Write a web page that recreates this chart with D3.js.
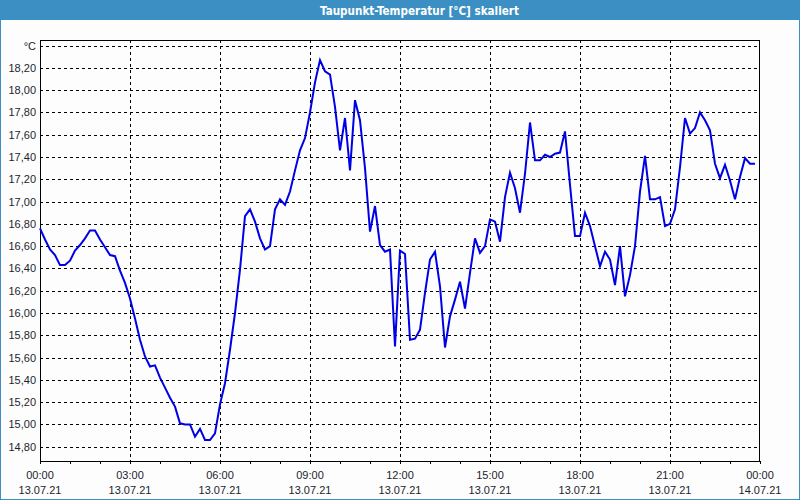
<!DOCTYPE html>
<html>
<head>
<meta charset="utf-8">
<script src="https://cdn.jsdelivr.net/npm/d3@7"></script>
<style>
  html, body { margin: 0; padding: 0; background: #fcfdfc; }
  svg { display: block; }
</style>
</head>
<body>
<svg id="chart" width="800" height="500"></svg>
<script>
// ---- Data (10-minute readings, 13.07.21 00:00 .. 23:50) ----
const title = "Taupunkt-Temperatur [°C] skaliert";
const unitLabel = "°C";
const startTime = "2021-07-13T00:00:00";
const endTime = "2021-07-14T00:00:00";
const stepMinutes = 10;
const dewPoint = [
  16.76, 16.66, 16.57, 16.52, 16.43, 16.43, 16.47, 16.56, 16.61, 16.67,
  16.74, 16.74, 16.66, 16.59, 16.52, 16.51, 16.38, 16.27, 16.13, 15.95,
  15.76, 15.61, 15.52, 15.53, 15.42, 15.33, 15.24, 15.16, 15.01, 15.00,
  15.00, 14.89, 14.96, 14.86, 14.86, 14.92, 15.18, 15.37, 15.67, 16.00,
  16.39, 16.87, 16.93, 16.82, 16.67, 16.57, 16.60, 16.93, 17.02, 16.97,
  17.09, 17.28, 17.46, 17.57, 17.80, 18.07, 18.27, 18.17, 18.14, 17.85,
  17.46, 17.75, 17.28, 17.91, 17.73, 17.30, 16.73, 16.96, 16.61, 16.55,
  16.57, 15.70, 16.56, 16.53, 15.76, 15.77, 15.85, 16.18, 16.48, 16.55,
  16.24, 15.69, 15.97, 16.12, 16.28, 16.04, 16.36, 16.67, 16.54, 16.60,
  16.84, 16.82, 16.64, 17.04, 17.26, 17.12, 16.90, 17.25, 17.71, 17.37,
  17.37, 17.42, 17.40, 17.43, 17.44, 17.63, 17.15, 16.69, 16.69, 16.90,
  16.78, 16.60, 16.42, 16.55, 16.48, 16.25, 16.60, 16.15, 16.34, 16.60,
  17.09, 17.41, 17.02, 17.02, 17.04, 16.78, 16.80, 16.93, 17.31, 17.75,
  17.61, 17.66, 17.80, 17.73, 17.64, 17.34, 17.21, 17.33, 17.19, 17.02,
  17.22, 17.39, 17.34, 17.34
];
const yTicks = [14.80, 15.00, 15.20, 15.40, 15.60, 15.80, 16.00, 16.20, 16.40,
                16.60, 16.80, 17.00, 17.20, 17.40, 17.60, 17.80, 18.00, 18.20, 18.40];
const xTickHours = [0, 3, 6, 9, 12, 15, 18, 21, 24];

// ---- Layout ----
const W = 800, H = 500;
const plot = { left: 40, right: 760, top: 40, bottom: 461 };
const svg = d3.select("#chart");
const t0 = new Date(startTime), t1 = new Date(endTime);
const times = dewPoint.map((_, i) => new Date(t0.getTime() + i * stepMinutes * 60000));

const x = d3.scaleTime().domain([t0, t1]).range([plot.left, plot.right]);
const y = d3.scaleLinear().domain([14.80, 18.40]).range([446.7, 45.6]);

// window background + border
svg.append("rect").attr("x", 0.5).attr("y", 0.5).attr("width", W - 1).attr("height", H - 1)
  .attr("fill", "#fcfdfc").attr("stroke", "#3c8fc3").attr("stroke-width", 1);
// title bar
svg.append("rect").attr("x", 0).attr("y", 0).attr("width", W).attr("height", 20).attr("fill", "#3c8fc3");
svg.append("text").attr("x", 419.5).attr("y", 14.5).attr("text-anchor", "middle")
  .attr("fill", "#ffffff").attr("font-family", "'DejaVu Sans Condensed', 'Liberation Sans', sans-serif")
  .attr("font-weight", "bold").attr("font-size", 11.6).text(title);

// horizontal grid
const gridG = svg.append("g").attr("stroke", "#000").attr("stroke-width", 1)
  .attr("stroke-dasharray", "3,3").attr("shape-rendering", "crispEdges");
gridG.selectAll("line.h").data(yTicks).join("line").attr("class", "h")
  .attr("x1", plot.left).attr("x2", plot.right)
  .attr("y1", d => Math.round(y(d)) + 0.5).attr("y2", d => Math.round(y(d)) + 0.5);
// vertical grid
const gridTimes = xTickHours.slice(1, -1).map(h => new Date(t0.getTime() + h * 3600000));
gridG.selectAll("line.v").data(gridTimes).join("line").attr("class", "v")
  .attr("y1", plot.top).attr("y2", plot.bottom)
  .attr("x1", d => Math.round(x(d)) + 0.5).attr("x2", d => Math.round(x(d)) + 0.5);

// y labels
const fontFam = "'Liberation Sans', Arial, sans-serif";
svg.append("g").selectAll("text").data(yTicks).join("text")
  .attr("x", 36).attr("y", d => y(d) + 4).attr("text-anchor", "end")
  .attr("font-family", fontFam).attr("font-size", 11).attr("fill", "#1e1e2e")
  .text(d => d === 18.40 ? unitLabel : d3.format(".2f")(d).replace(".", ","));

// x axis with minor hourly ticks
const hourly = d3.range(0, 25).map(h => new Date(t0.getTime() + h * 3600000));
const xAxis = d3.axisBottom(x).tickValues(hourly).tickSize(3).tickFormat("");
const axG = svg.append("g").attr("transform", `translate(0,${plot.bottom})`).call(xAxis);
axG.select(".domain").remove();
axG.selectAll(".tick line").attr("stroke", "#000").attr("shape-rendering", "crispEdges");

const labelTimes = xTickHours.map(h => new Date(t0.getTime() + h * 3600000));
const fmtTime = d3.timeFormat("%H:%M"), fmtDate = d3.timeFormat("%d.%m.%y");
const lbl = svg.append("g").attr("font-family", fontFam).attr("font-size", 11).attr("fill", "#1e1e2e")
  .attr("text-anchor", "middle");
lbl.selectAll("text.t").data(labelTimes).join("text").attr("class", "t")
  .attr("x", d => x(d)).attr("y", 479).text(d => fmtTime(d));
lbl.selectAll("text.d").data(labelTimes).join("text").attr("class", "d")
  .attr("x", d => x(d)).attr("y", 494).text(d => fmtDate(d));

// frame
svg.append("rect").attr("x", plot.left + 0.5).attr("y", plot.top + 0.5)
  .attr("width", plot.right - plot.left - 1).attr("height", plot.bottom - plot.top)
  .attr("fill", "none").attr("stroke", "#000").attr("shape-rendering", "crispEdges");

// series line
const line = d3.line().x((d, i) => x(times[i])).y(d => y(d));
svg.append("path").datum(dewPoint).attr("d", line)
  .attr("fill", "none").attr("stroke", "#0000e6").attr("stroke-width", 2)
  .attr("stroke-linejoin", "miter");
</script>
</body>
</html>
